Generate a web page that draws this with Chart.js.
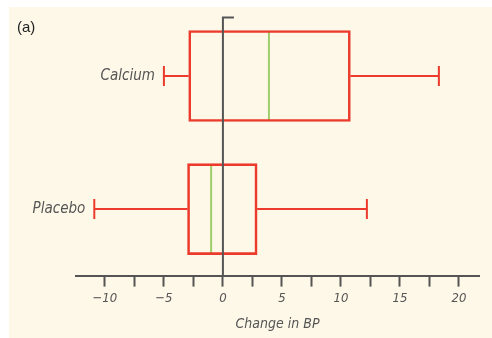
<!DOCTYPE html>
<html>
<head>
<meta charset="utf-8">
<script src="https://cdn.jsdelivr.net/npm/chart.js@4"></script>
<style>
  body { margin: 0; background: #fff; }
  #panel { position: absolute; left: 9px; top: 7px; width: 483px; height: 331px; background: #fdf8e8; }
</style>
</head>
<body>
<div id="panel"><canvas id="bpChart"></canvas></div>
<script>
// Box plot values (change in BP)
const categories = ['Calcium', 'Placebo'];
const whiskerLow = [-5, -10.9];
const q1 = [-2.9, -3];
const medians = [3.9, -1];
const q3 = [10.8, 2.9];
const whiskerHigh = [18.3, 12.2];
const tickLabels = [-10, -5, 0, 5, 10, 15, 20];

const red = '#ec3b2c';
const green = '#9fcf6c';
const axisGray = '#555555';
const handFont = '"Liberation Sans Narrow", "DejaVu Sans Condensed", sans-serif';

// Build datasets: box, two whiskers and a median for each group
const datasets = [{
    type: 'bar',
    indexAxis: 'y',
    data: categories.map((c, i) => [q1[i], q3[i]]),
    backgroundColor: 'rgba(0,0,0,0)',
    borderColor: red,
    borderWidth: 2,
    borderSkipped: false,
    barThickness: 91
}];

categories.forEach((cat, i) => {
    const whisker = (from, to) => ({
        type: 'line',
        data: [{ x: from, y: cat }, { x: to, y: cat }],
        borderColor: red,
        borderWidth: 2,
        pointStyle: 'line',
        pointRotation: 90,
        pointRadius: [10, 0],
        pointBorderColor: red,
        pointBorderWidth: 2
    });
    datasets.push(whisker(whiskerLow[i], q1[i]));
    datasets.push(whisker(whiskerHigh[i], q3[i]));
    datasets.push({
        type: 'line',
        data: [{ x: medians[i], y: cat }],
        showLine: false,
        pointStyle: 'line',
        pointRotation: 90,
        pointRadius: 44,
        pointBorderColor: green,
        pointBorderWidth: 2
    });
});

// Zero line, group labels and panel tag
const decorPlugin = {
    id: 'decor',
    afterDatasetsDraw(chart) {
        const { ctx, chartArea } = chart;
        const xs = chart.scales.x;
        const ys = chart.scales.y;
        ctx.save();

        const x0 = xs.getPixelForValue(0);
        ctx.strokeStyle = axisGray;
        ctx.lineWidth = 2;
        ctx.beginPath();
        ctx.moveTo(x0, chartArea.bottom);
        ctx.lineTo(x0, chartArea.top + 8);
        ctx.lineTo(x0 + 11, chartArea.top + 8);
        ctx.stroke();

        ctx.fillStyle = axisGray;
        ctx.font = 'italic 15px ' + handFont;
        ctx.textAlign = 'right';
        ctx.textBaseline = 'middle';
        categories.forEach((cat, i) => {
            ctx.fillText(cat, xs.getPixelForValue(whiskerLow[i]) - 9, ys.getPixelForValue(i));
        });

        ctx.fillStyle = '#222';
        ctx.font = '15px "Liberation Sans", Arial, sans-serif';
        ctx.textAlign = 'left';
        ctx.fillText('(a)', 8, 21);
        ctx.restore();
    }
};

const ctx = document.getElementById('bpChart').getContext('2d');
new Chart(ctx, {
    type: 'bar',
    data: { labels: categories, datasets: datasets },
    options: {
        responsive: true,
        maintainAspectRatio: false,
        animation: false,
        events: [],
        layout: { autoPadding: false, padding: { left: 67, right: 13, top: 2.5, bottom: 0 } },
        plugins: { legend: { display: false }, tooltip: { enabled: false } },
        scales: {
            x: {
                type: 'linear',
                min: -12.45,
                max: 21.7,
                offset: false,
                border: { display: true, color: axisGray, width: 2 },
                grid: { offset: false, drawOnChartArea: false, drawTicks: true, tickLength: 11, tickColor: axisGray, tickWidth: 2 },
                ticks: {
                    stepSize: 2.5,
                    includeBounds: false,
                    autoSkip: false,
                    maxRotation: 0,
                    minRotation: 0,
                    padding: 4,
                    color: axisGray,
                    font: { family: handFont, size: 13, style: 'italic' },
                    callback: function(value) {
                        if (!tickLabels.includes(value)) return '';
                        return value < 0 ? '\u2212' + Math.abs(value) : String(value);
                    }
                },
                title: {
                    display: true,
                    text: 'Change in BP',
                    color: axisGray,
                    font: { family: handFont, size: 14, style: 'italic' },
                    padding: { top: 6, bottom: 5 }
                }
            },
            y: {
                type: 'category',
                display: false,
                offset: true
            }
        }
    },
    plugins: [decorPlugin]
});
</script>
</body>
</html>
